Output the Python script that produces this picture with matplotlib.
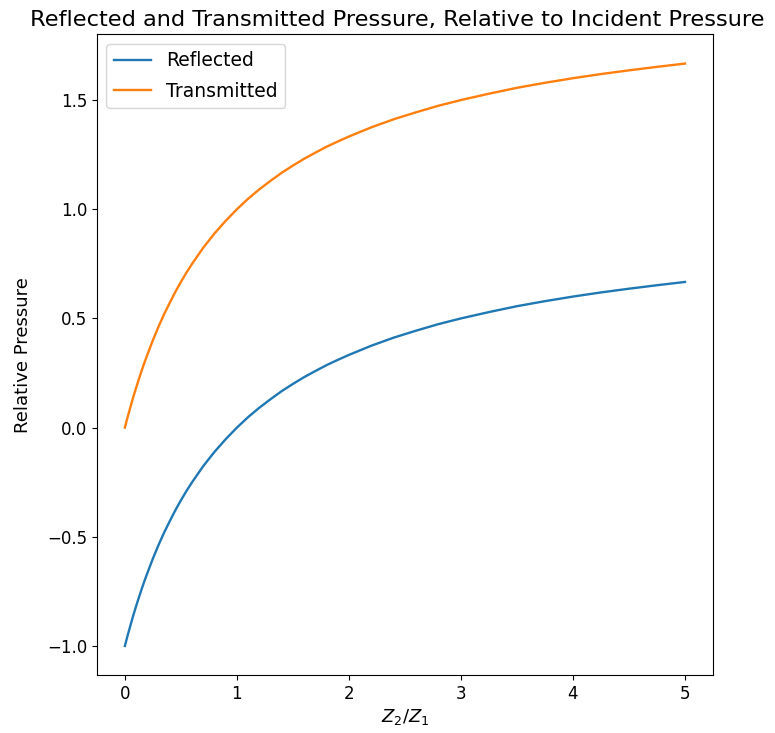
import matplotlib
matplotlib.use("Agg")
import matplotlib.pyplot as plt

# Impedance ratio Z2/Z1 (sample points)
ratio = [0.0, 0.025, 0.05, 0.075, 0.1, 0.125, 0.15, 0.175, 0.2, 0.25, 0.3, 0.35,
         0.4, 0.45, 0.5, 0.55, 0.6, 0.7, 0.8, 0.9, 1.0, 1.1, 1.2, 1.3, 1.4, 1.5,
         1.6, 1.7, 1.8, 1.9, 2.0, 2.2, 2.4, 2.6, 2.8, 3.0, 3.25, 3.5, 3.75, 4.0,
         4.25, 4.5, 4.75, 5.0]
reflected = [-1.000, -0.951, -0.905, -0.860, -0.818, -0.778, -0.739, -0.702,
             -0.667, -0.600, -0.538, -0.481, -0.429, -0.379, -0.333, -0.290,
             -0.250, -0.176, -0.111, -0.053, 0.000, 0.048, 0.091, 0.130, 0.167,
             0.200, 0.231, 0.259, 0.286, 0.310, 0.333, 0.375, 0.412, 0.444,
             0.474, 0.500, 0.529, 0.556, 0.579, 0.600, 0.619, 0.636, 0.652, 0.667]
transmitted = [0.000, 0.049, 0.095, 0.140, 0.182, 0.222, 0.261, 0.298,
               0.333, 0.400, 0.462, 0.519, 0.571, 0.621, 0.667, 0.710,
               0.750, 0.824, 0.889, 0.947, 1.000, 1.048, 1.091, 1.130, 1.167,
               1.200, 1.231, 1.259, 1.286, 1.310, 1.333, 1.375, 1.412, 1.444,
               1.474, 1.500, 1.529, 1.556, 1.579, 1.600, 1.619, 1.636, 1.652, 1.667]

fig = plt.figure(figsize=(7.75, 7.33), dpi=100)
ax = fig.add_axes([0.125, 0.079, 0.795, 0.874])
ax.plot(ratio, reflected, color="#1f77b4", lw=1.7, label="Reflected")
ax.plot(ratio, transmitted, color="#ff7f0e", lw=1.7, label="Transmitted")
ax.set_xlabel(r"$Z_2/Z_1$", fontsize=13, labelpad=3)
ax.set_ylabel("Relative Pressure", fontsize=13, labelpad=11)
ax.set_title("Reflected and Transmitted Pressure, Relative to Incident Pressure",
             fontsize=16.2, x=0.488)
ax.tick_params(labelsize=12)
ax.legend(loc="upper left", fontsize=13.5, labelspacing=0.6)
fig.savefig("out.png", dpi=100)
